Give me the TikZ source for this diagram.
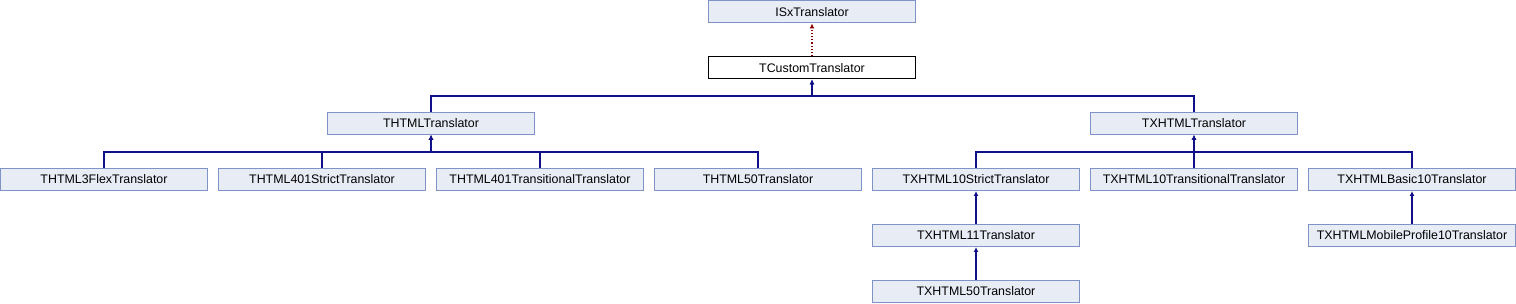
\documentclass[tikz,border=0pt]{standalone}
\usepackage{fontspec}
\setmainfont{Liberation Sans}
\usetikzlibrary{arrows.meta}
\definecolor{boxfill}{HTML}{E8ECF5}
\definecolor{boxdraw}{HTML}{7F93C8}
\definecolor{edgeblue}{HTML}{10108A}
\definecolor{edgered}{HTML}{8B0000}
\begin{document}
\begin{tikzpicture}[x=1pt,y=-1pt,
  cls/.style={draw=boxdraw,fill=boxfill,line width=1pt,minimum width=207pt,minimum height=22pt,inner sep=0pt,font=\fontsize{12.4}{14}\selectfont},
  cur/.style={cls,draw=black,fill=white},
  inh/.style={draw=edgeblue,line width=1.2pt,-{Latex[length=5pt,width=5pt]}},
  impl/.style={draw=edgered,line width=1.2pt,dotted,-{Latex[length=5pt,width=5pt]}}]
\useasboundingbox (0,0) rectangle (1516,304);
\node[cls] (isx) at (812,12) {ISxTranslator};
\node[cur] (tc) at (812,68) {TCustomTranslator};
\node[cls] (th) at (431,123.5) {THTMLTranslator};
\node[cls] (tx) at (1194,123.5) {TXHTMLTranslator};
\node[cls] (flex) at (104,179.5) {THTML3FlexTranslator};
\node[cls] (h401s) at (322,179.5) {THTML401StrictTranslator};
\node[cls] (h401t) at (540,179.5) {THTML401TransitionalTranslator};
\node[cls] (h50) at (758,179.5) {THTML50Translator};
\node[cls] (x10s) at (976,179.5) {TXHTML10StrictTranslator};
\node[cls] (x10t) at (1194,179.5) {TXHTML10TransitionalTranslator};
\node[cls] (xb) at (1412,179.5) {TXHTMLBasic10Translator};
\node[cls] (x11) at (976,235.5) {TXHTML11Translator};
\node[cls] (xm) at (1412,235.5) {TXHTMLMobileProfile10Translator};
\node[cls] (x50) at (976,291.5) {TXHTML50Translator};
\coordinate (b1) at (812,96);
\coordinate (b2) at (431,152);
\coordinate (b3) at (1194,152);
\draw[impl] (tc.north) -- (isx.south);
\foreach \c in {th,tx} \draw[inh] (\c.north) -- (\c.north |- b1) -- (b1) -- (tc.south);
\foreach \c in {flex,h401s,h401t,h50} \draw[inh] (\c.north) -- (\c.north |- b2) -- (b2) -- (th.south);
\foreach \c in {x10s,x10t,xb} \draw[inh] (\c.north) -- (\c.north |- b3) -- (b3) -- (tx.south);
\draw[inh] (x11.north) -- (x10s.south);
\draw[inh] (x50.north) -- (x11.south);
\draw[inh] (xm.north) -- (xb.south);
\end{tikzpicture}
\end{document}
